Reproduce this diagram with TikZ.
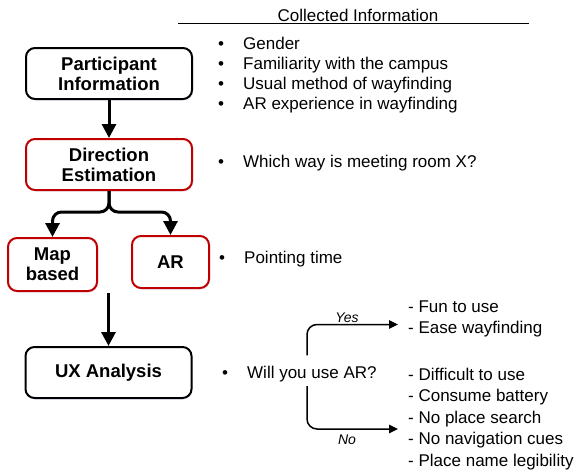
\documentclass[tikz,border=0pt]{standalone}
\usepackage{fontspec}
\setmainfont{Liberation Sans}
\usetikzlibrary{arrows.meta, positioning, shadows}

\definecolor{boxred}{RGB}{192,0,0}
\newcommand{\itm}[1]{\makebox[25pt][l]{\textbullet}#1}

\begin{document}
\begin{tikzpicture}[x=1pt, y=1pt, >={Triangle[length=14pt, width=14pt]},
  stage/.style={draw, rounded corners=9pt, line width=2pt, fill=white, align=center,
    minimum width=166pt, minimum height=51pt, font=\bfseries\fontsize{18.5}{20}\selectfont,
    drop shadow={fill=blue!15, shadow xshift=1.2pt, shadow yshift=-1.5pt}},
  redstage/.style={stage, draw=boxred},
  info/.style={inner sep=0pt, anchor=base west, font=\fontsize{17}{20}\selectfont},
  flow/.style={->, line width=3pt},
  answer/.style={-{Triangle[length=9pt, width=8.5pt]}, line width=1.5pt, rounded corners=10pt},
  tag/.style={inner sep=1pt, font=\itshape\fontsize{14}{16}\selectfont}]
  \useasboundingbox (0,0) rectangle (574,-471);

  % study stages
  \node[stage] (part) at (109,-73.5) {Participant\\Information};
  \node[redstage, below=38pt of part] (dir) {Direction\\Estimation};
  \node[redstage, minimum width=89pt, minimum height=53pt] (map) at (52.5,-264.5) {Map\\based};
  \node[redstage, minimum width=77pt, minimum height=52pt] (ar) at (170.5,-262) {AR};
  \node[stage] (ux) at (108.5,-372.5) {UX Analysis};

  \draw[flow] (part) -- (dir);
  \draw[flow, rounded corners=9pt] (dir.south) -- ++(0,-21) -| (map.north);
  \draw[flow, rounded corners=9pt] (dir.south) -- ++(0,-21) -| (ar.north);
  \coordinate (merge) at (108.5,-293);
  \draw[flow] (merge) -- (ux);

  % what was collected at each stage
  \node[info, anchor=base] (title) at (358,-21) {Collected Information};
  \draw[line width=0.9pt] (178,-23.3) -- (529,-23.3);
  \node[info] (profile) at (218,-49.5) {\begin{tabular}[t]{@{}l@{}}
    \itm{Gender}\\
    \itm{Familiarity with the campus}\\
    \itm{Usual method of wayfinding}\\
    \itm{AR experience in wayfinding}
  \end{tabular}};
  \node[info] (which) at (218,-167) {\itm{Which way is meeting room X?}};
  \node[info] (point) at (219,-263.5) {\itm{Pointing time}};
  \node[info] (ask) at (222,-378) {\itm{Will you use AR?}};

  % answers to the UX question
  \coordinate (yesend) at (398,-324.5);
  \coordinate (noend) at (398,-429);
  \draw[answer] ([xshift=85pt, yshift=10pt]ask.north west) |- (yesend)
    node[tag, pos=0.72, above] (yes) {Yes};
  \draw[answer] ([xshift=85pt, yshift=-4.5pt]ask.south west) |- (noend)
    node[tag, pos=0.72, below=4pt] (no) {No};
  \node[info, font=\fontsize{17}{21.5}\selectfont] (pros) at (408,-312) {\begin{tabular}[t]{@{}l@{}}
    - Fun to use\\
    - Ease wayfinding
  \end{tabular}};
  \node[info, font=\fontsize{17}{21.5}\selectfont] (cons) at (408,-380) {\begin{tabular}[t]{@{}l@{}}
    - Difficult to use\\
    - Consume battery\\
    - No place search\\
    - No navigation cues\\
    - Place name legibility
  \end{tabular}};
\end{tikzpicture}
\end{document}
